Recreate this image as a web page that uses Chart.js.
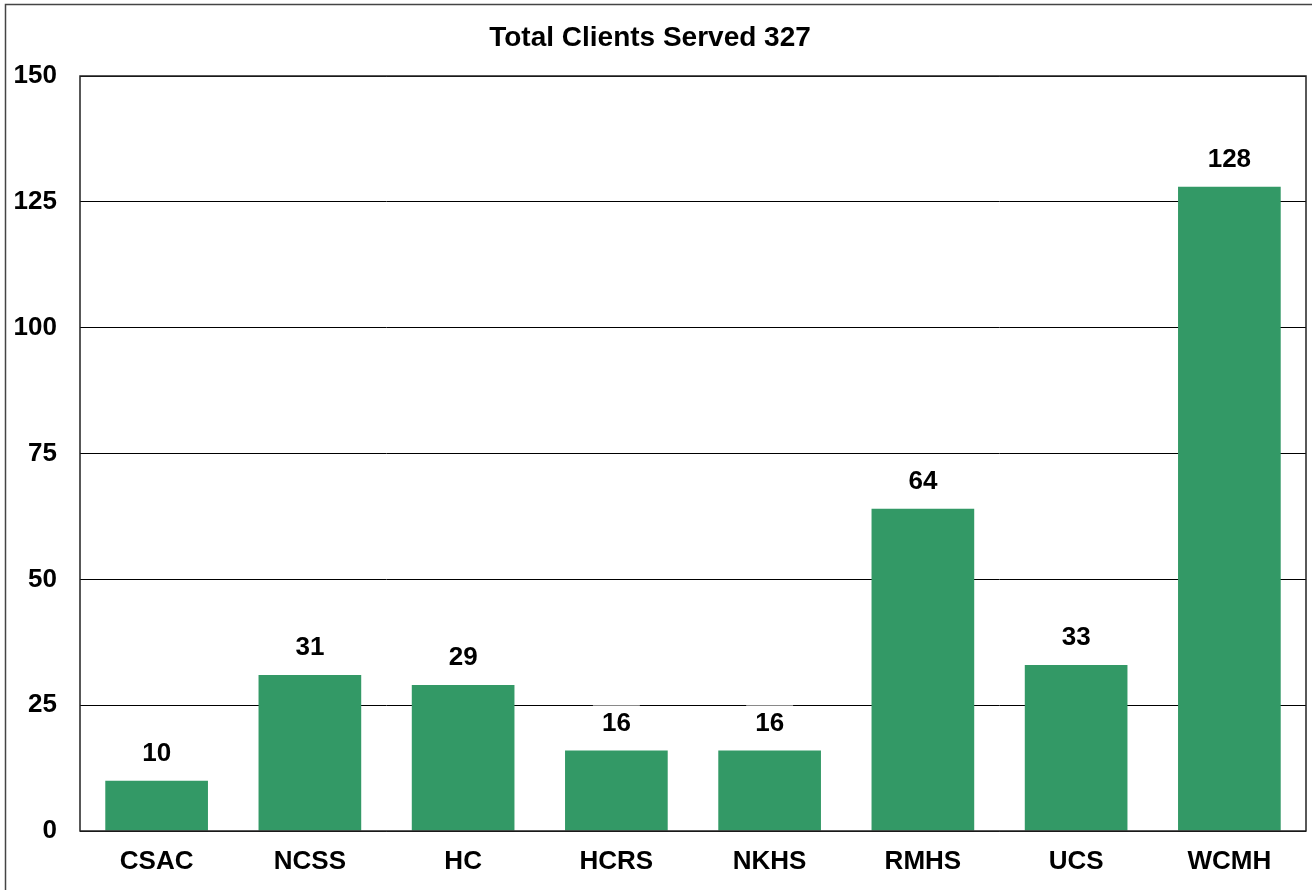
<!DOCTYPE html>
<html>
<head>
<meta charset="utf-8">
<script src="https://cdn.jsdelivr.net/npm/chart.js@4/dist/chart.umd.min.js"></script>
<style>
  html, body { margin: 0; padding: 0; background: #fff; }
  #wrap { width: 1312px; height: 890px; position: relative; }
</style>
</head>
<body>
<div id="wrap"><canvas id="myChart"></canvas></div>
<script>
const chartTitle = "Total Clients Served 327";
const agencies = ["CSAC", "NCSS", "HC", "HCRS", "NKHS", "RMHS", "UCS", "WCMH"];
const clients = [10, 31, 29, 16, 16, 64, 33, 128];
const yTicks = [0, 25, 50, 75, 100, 125, 150];

const font = "Liberation Sans, Arial, sans-serif";

// outer frame, plot frame, title and boxed value labels
const decor = {
  id: "decor",
  afterDraw(chart) {
    const ctx = chart.ctx;
    const a = chart.chartArea;
    ctx.save();
    ctx.strokeStyle = "#444";
    ctx.lineWidth = 1.5;
    ctx.strokeRect(5.5, 4.5, 1320, 900);

    ctx.strokeStyle = "#222";
    ctx.lineWidth = 1.5;
    ctx.strokeRect(a.left, a.top, a.right - a.left, a.bottom - a.top);

    ctx.fillStyle = "#000";
    ctx.font = "bold 28px " + font;
    ctx.textAlign = "center";
    ctx.textBaseline = "middle";
    ctx.fillText(chartTitle, 650, 38);

    ctx.font = "bold 26px " + font;
    const meta = chart.getDatasetMeta(0);
    meta.data.forEach((bar, i) => {
      const txt = String(clients[i]);
      const y = bar.y - 27;
      const w = ctx.measureText(txt).width + 18;
      ctx.fillStyle = "#fff";
      ctx.fillRect(bar.x - w / 2, y - 18, w, 36);
      ctx.fillStyle = "#000";
      ctx.fillText(txt, bar.x, y);
    });
    ctx.restore();
  }
};

const ctx = document.getElementById("myChart").getContext("2d");
const chart = new Chart(ctx, {
  type: "bar",
  data: {
    labels: agencies,
    datasets: [{
      data: clients,
      backgroundColor: "#339966",
      barPercentage: 0.67,
      categoryPercentage: 1
    }]
  },
  options: {
    responsive: true,
    maintainAspectRatio: false,
    animation: false,
    layout: { padding: { top: 76, right: 6, left: 0, bottom: 0 } },
    plugins: {
      legend: { display: false },
      tooltip: { enabled: false }
    },
    scales: {
      x: {
        grid: { display: false, drawTicks: false },
        border: { display: false },
        ticks: {
          color: "#000",
          padding: 15,
          font: { family: font, size: 26, weight: "bold" }
        },
        afterFit(scale) { scale.height = 59; }
      },
      y: {
        min: 0,
        max: 150,
        afterBuildTicks(scale) { scale.ticks = yTicks.map(v => ({ value: v })); },
        grid: { color: "#000", lineWidth: 1, drawTicks: false },
        border: { display: false },
        ticks: {
          color: "#000",
          padding: 23,
          font: { family: font, size: 26, weight: "bold" }
        },
        afterFit(scale) { scale.width = 80; }
      }
    }
  },
  plugins: [decor]
});
</script>
</body>
</html>
